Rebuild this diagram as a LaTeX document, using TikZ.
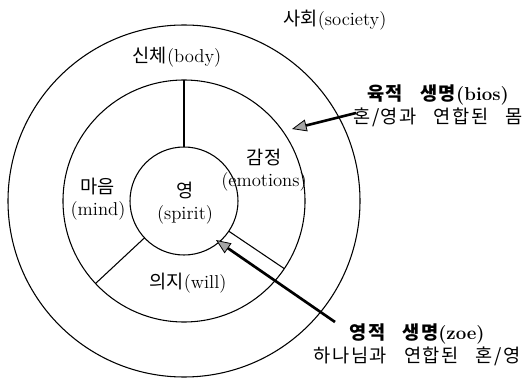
\documentclass[tikz,border=0pt]{standalone}
\usepackage{fontspec}
\newfontfamily\kr{Noto Sans CJK KR}
\newfontfamily\krwide{Noto Sans CJK KR}[LetterSpace=8, WordSpace=3]
\usetikzlibrary{arrows.meta}

\begin{document}
\begin{tikzpicture}[x=0.75pt, y=-0.75pt,
    ring/.style={circle, draw, line width=0.8pt, inner sep=0pt, outer sep=0pt},
    divider/.style={line width=0.8pt},
    lbl/.style={font=\fontsize{14}{17}\selectfont, inner sep=1pt, align=center},
    pointer/.style={line width=2pt, -{Triangle[length=11pt, width=9pt, line width=0.6pt, fill=gray!70]}}
]
    \useasboundingbox (0,0) rectangle (522,378);

    % Rings
    \node[ring, minimum size=264pt] (society) at (184,201) {};
    \node[ring, minimum size=181.5pt] (soul) at (184,201) {};
    \node[ring, minimum size=81pt] (spirit) at (184,201) {};

    % Dividers of the soul ring
    \draw[divider] (spirit.90) -- (soul.90);
    \draw[divider] (spirit.223) -- (soul.223);
    \draw[divider] (spirit.326) -- (soul.326);

    % Ring labels
    \node[lbl] (societylbl) at (335,20) {{\kr 사회}(society)};
    \node[lbl] (bodylbl) at (177,57) {{\kr 신체}(body)};
    \node[lbl] (emotionslbl) at (264,170) {{\kr 감정}\\(emotions)};
    \node[lbl] (mindlbl) at (98,199) {{\kr 마음}\\(mind)};
    \node[lbl] (spiritlbl) at (185,203) {{\kr 영}\\(spirit)};
    \node[lbl] (willlbl) at (188,283) {{\kr 의지}(will)};

    % Life labels
    \node[lbl] (bioslbl) at (438,106) {\textbf{{\krwide\bfseries 육적 생명}(bios)}\\{\krwide 혼/영과 연합된 몸}};
    \node[lbl] (zoelbl) at (417,345) {\textbf{{\krwide\bfseries 영적 생명}(zoe)}\\{\krwide 하나님과 연합된 혼/영}};

    % Pointers
    \coordinate (biosfrom) at (356,113);
    \coordinate (biosto) at (292,129);
    \coordinate (zoefrom) at (335,322);
    \coordinate (zoeto) at (216,240);
    \draw[pointer] (biosfrom) -- (biosto);
    \draw[pointer] (zoefrom) -- (zoeto);
\end{tikzpicture}
\end{document}
